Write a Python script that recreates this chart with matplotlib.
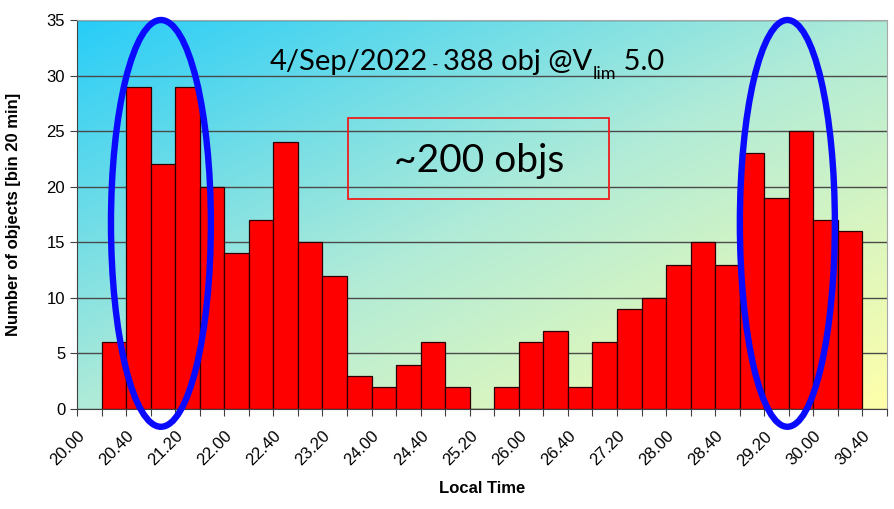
import numpy as np
import matplotlib
matplotlib.use("Agg")
import matplotlib.pyplot as plt
from matplotlib.colors import LinearSegmentedColormap
from matplotlib.patches import Ellipse, Rectangle

# objects per 20-minute bin, first bin starts at 20.20 local time
counts = [6, 29, 22, 29, 20, 14, 17, 24, 15, 12, 3, 2, 4, 6, 2, 0,
          2, 6, 7, 2, 6, 9, 10, 13, 15, 13, 23, 19, 25, 17, 16]
bin_start = np.arange(1, len(counts) + 1)   # bin index, 0 = 20.00
tick_labels = ["20.00", "20.40", "21.20", "22.00", "22.40", "23.20", "24.00",
               "24.40", "25.20", "26.00", "26.40", "27.20", "28.00", "28.40",
               "29.20", "30.00", "30.40"]
n_bins = 33

fig = plt.figure(figsize=(8.94, 5.09), dpi=100)
ax = fig.add_axes([0.0861, 0.1965, 0.9061, 0.7642])

# diagonal background gradient, cyan top-left -> yellow bottom-right
cmap = LinearSegmentedColormap.from_list(
    "bg", [(0.0, "#28cdf8"), (0.5, "#b0ebd8"), (1.0, "#ffffaa")])
gx, gy = np.meshgrid(np.linspace(0, 1, 300), np.linspace(0, 1, 200))
ax.imshow((gx + gy) / 2, cmap=cmap, extent=(0, 1, 0, 1), origin="upper",
          transform=ax.transAxes, aspect="auto", zorder=0,
          interpolation="bicubic")
ax.set_xlim(0, n_bins)
ax.set_ylim(0, 35)

ax.yaxis.grid(True, color="#4a4a4a", lw=1.0, zorder=1)
ax.set_axisbelow(True)
ax.bar(bin_start, counts, width=1.0, align="edge", color="#ff0000",
       edgecolor="#2a0000", lw=0.9, zorder=2)

ax.set_yticks(range(0, 36, 5))
ax.set_xticks(range(0, n_bins + 1))
ax.set_xticklabels([tick_labels[i // 2] if i % 2 == 0 and i // 2 < len(tick_labels) else ""
                    for i in range(n_bins + 1)],
                   rotation=45, ha="right", rotation_mode="anchor")
ax.tick_params(axis="both", direction="out", length=5, color="#404040",
               labelsize=12, labelcolor="black")
ax.tick_params(axis="x", pad=9)
for lbl in ax.get_xticklabels() + ax.get_yticklabels():
    lbl.set_family("Liberation Sans")
for s in ["left", "bottom"]:
    ax.spines[s].set_color("#404040")
for s in ["top", "right"]:
    ax.spines[s].set_color("#a8a8a8")

ax.set_ylabel("Number of objects [bin 20 min]", fontsize=12, fontweight="bold",
              family="Liberation Sans")
ax.yaxis.set_label_coords(-0.069, 0.5)
fig.text(0.539, 0.041, "Local Time", ha="center", va="center", fontsize=12,
         fontweight="bold", family="Liberation Sans")

# title line, assembled from pieces so the subscript sits right
fig.canvas.draw()
rend = fig.canvas.get_renderer()
x0, y0 = 270, 509 - 70
pieces = [("4/Sep/2022", 21, 0), (" - ", 12, 0), ("388 obj @V", 21, 0),
          ("lim", 13, -9), (" 5.0", 21, 0)]
x = x0
for txt, size, dy in pieces:
    t = fig.text(x / 894, (y0 + dy) / 509, txt, fontsize=size, family="Lato",
                 ha="left", va="baseline")
    x += t.get_window_extent(rend).width

# boxed note
ax.add_patch(Rectangle((0.3346, 0.54), 0.3222, 0.208, transform=ax.transAxes,
                       fill=False, ec="#ee1c1c", lw=1.3, zorder=4))
ax.text(0.496, 0.637, "~200 objs", transform=ax.transAxes, ha="center",
        va="center", fontsize=28, family="Lato", zorder=4)

# highlight rings round the two busy periods
for cx, w in [(3.42, 4.07), (28.94, 3.87)]:
    ax.add_patch(Ellipse((cx, 16.7), w, 36.6, fill=False, ec="#0a0aff",
                         lw=4.6, clip_on=False, zorder=5))

fig.savefig("out.png", dpi=100)
